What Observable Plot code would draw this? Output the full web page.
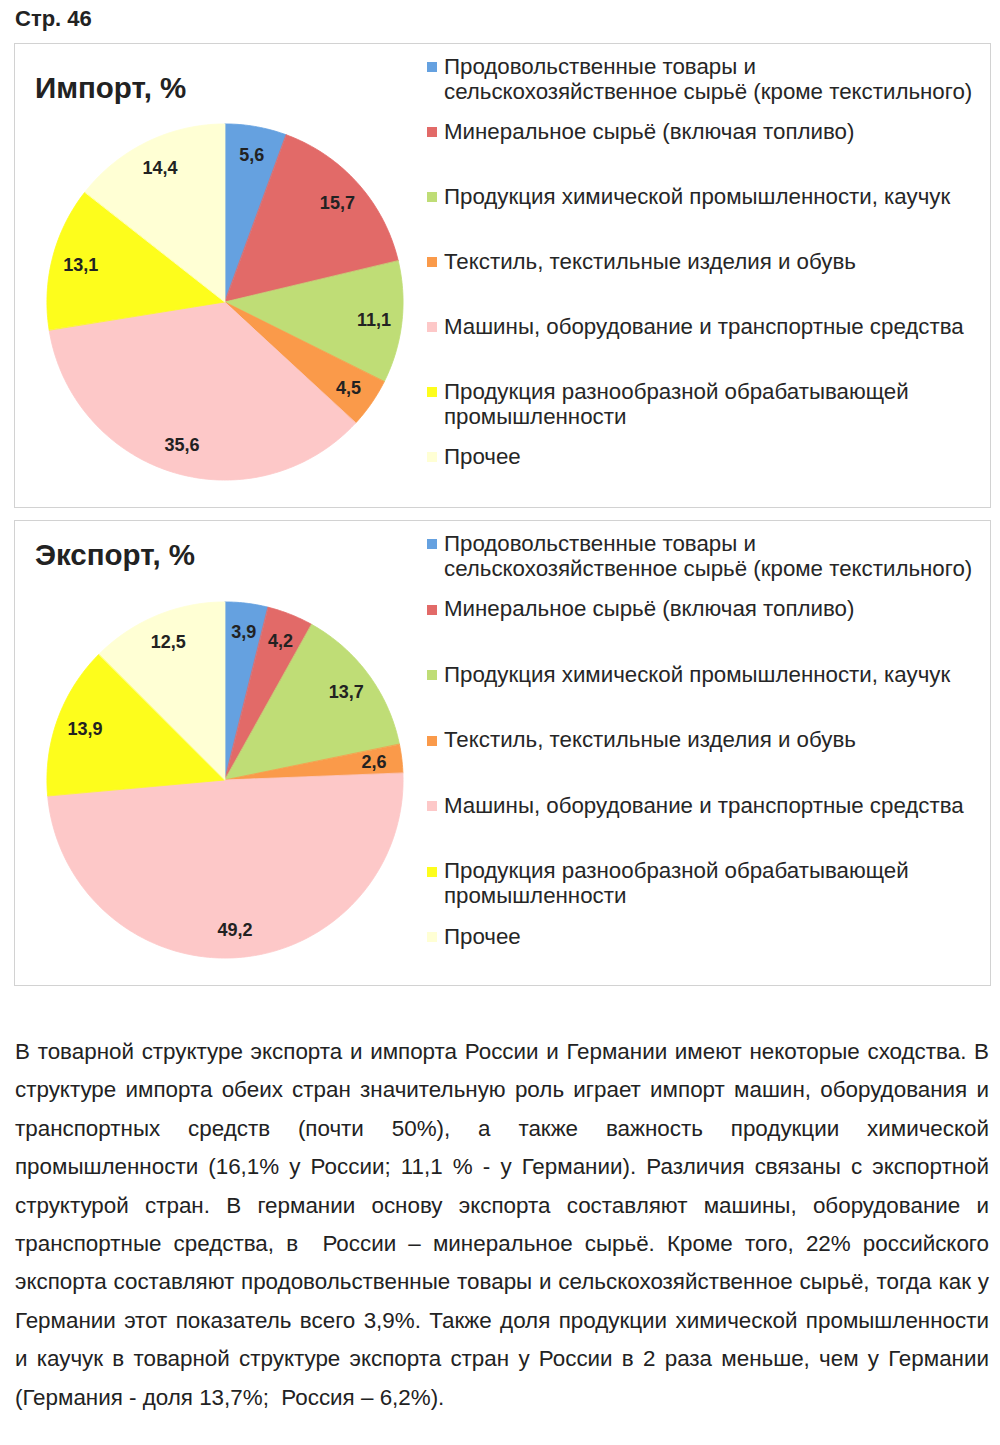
<!DOCTYPE html>
<html>
<head>
<meta charset="utf-8">
<script src="https://cdn.jsdelivr.net/npm/d3@7"></script>
<script src="https://cdn.jsdelivr.net/npm/@observablehq/plot@0.6"></script>
<style>
  html, body { margin: 0; padding: 0; background: #fff; }
  body { width: 1000px; height: 1445px; position: relative; font-family: Arial, "Liberation Sans", sans-serif; color: #222; overflow: hidden; }
  .abs { position: absolute; }
  .page { left: 15px; top: 5px; font-size: 22px; font-weight: bold; line-height: 28px; color: #222; }
  .box { border: 1px solid #d2d2d2; background: #fff; }
  .title { font-size: 29.5px; font-weight: bold; line-height: 34px; color: #222; white-space: nowrap; }
  .leg { left: 444px; font-size: 22.3px; line-height: 25px; color: #262626; white-space: nowrap; }
  .sw { left: 427px; width: 10px; height: 10px; }
  .para { left: 15px; width: 974px; line-height: 38.4px; color: #222; }
  .para div { text-align: justify; text-align-last: justify; white-space: nowrap; }
  .para div.last { text-align: left; text-align-last: left; }
</style>
</head>
<body>
<div id="root"></div>
<script>
// ---------- data ----------
const categories = [
  "Продовольственные товары и\nсельскохозяйственное сырьё (кроме текстильного)",
  "Минеральное сырьё (включая топливо)",
  "Продукция химической промышленности, каучук",
  "Текстиль, текстильные изделия и обувь",
  "Машины, оборудование и транспортные средства",
  "Продукция разнообразной обрабатывающей\nпромышленности",
  "Прочее"
];
const colors = ["#65a1e0", "#e26a68", "#bfdd76", "#fa9a4a", "#fdc8c8", "#fdfd1c", "#ffffd4"];
const importValues = [5.6, 15.7, 11.1, 4.5, 35.6, 13.1, 14.4];
const exportValues = [3.9, 4.2, 13.7, 2.6, 49.2, 13.9, 12.5];
const titles = ["Импорт, %", "Экспорт, %"];
const pageLabel = "Стр. 46";
const paragraphLines = [
  "В товарной структуре экспорта и импорта России и Германии имеют некоторые сходства. В",
  "структуре импорта обеих стран значительную роль играет импорт машин, оборудования и",
  "транспортных средств (почти 50%), а также важность продукции химической",
  "промышленности (16,1% у России; 11,1 % - у Германии). Различия связаны с экспортной",
  "структурой стран. В германии основу экспорта составляют машины, оборудование и",
  "транспортные средства, в\u00a0 России – минеральное сырьё. Кроме того, 22% российского",
  "экспорта составляют продовольственные товары и сельскохозяйственное сырьё, тогда как у",
  "Германии этот показатель всего 3,9%. Также доля продукции химической промышленности",
  "и каучук в товарной структуре экспорта стран у России в 2 раза меньше, чем у Германии",
  "(Германия - доля 13,7%;\u00a0 Россия – 6,2%)."
];

// ---------- layout helpers ----------
const root = document.getElementById("root");
function el(cls, css, html) {
  const d = document.createElement("div");
  d.className = "abs " + cls;
  Object.assign(d.style, css);
  if (html != null) d.innerHTML = html;
  root.appendChild(d);
  return d;
}

function piePlot(values) {
  const total = d3.sum(values);
  const slices = [];
  const pts = [];
  let acc = 0;
  values.forEach((v, i) => {
    const a0 = 2 * Math.PI * acc / total;
    acc += v;
    const a1 = 2 * Math.PI * acc / total;
    const n = Math.max(2, Math.ceil((a1 - a0) * 180 / Math.PI));
    for (let k = 0; k <= n; k++) {
      const a = a0 + (a1 - a0) * k / n;
      pts.push({cat: categories[i], x0: 0, y0: 0, x: Math.sin(a), y: Math.cos(a)});
    }
    const m = (a0 + a1) / 2;
    slices.push({cat: categories[i], value: v, lx: 0.84 * Math.sin(m), ly: 0.84 * Math.cos(m)});
  });
  return Plot.plot({
    width: 380, height: 380, margin: 0,
    style: {background: "transparent", overflow: "visible"},
    x: {domain: [-1.067, 1.067], axis: null},
    y: {domain: [-1.067, 1.067], axis: null},
    color: {domain: categories, range: colors},
    marks: [
      Plot.area(pts, {x1: "x0", y1: "y0", x2: "x", y2: "y", z: "cat", fill: "cat", stroke: "cat", strokeWidth: 0.8}),
      Plot.text(slices, {x: "lx", y: "ly", text: d => d3.format(".1f")(d.value).replace(".", ","),
        fontSize: 18, fontWeight: "bold", fill: "#222", fontFamily: "Arial, 'Liberation Sans', sans-serif"})
    ]
  });
}

// page label
el("page", {}, pageLabel);

// panels
const panels = [
  {values: importValues, boxTop: 43, boxH: 463, titleTop: 71, cy: 302, legTop: 66, legStep: 65},
  {values: exportValues, boxTop: 520, boxH: 464, titleTop: 538, cy: 780, legTop: 543, legStep: 65.5}
];
panels.forEach((p, pi) => {
  el("box", {left: "14px", top: p.boxTop + "px", width: "975px", height: p.boxH + "px"});
  el("title", {left: "35px", top: p.titleTop + "px"}, titles[pi]);
  const holder = el("", {left: (225 - 190) + "px", top: (p.cy - 190) + "px", width: "380px", height: "380px"});
  holder.appendChild(piePlot(p.values));
  categories.forEach((c, i) => {
    const cyText = p.legTop + p.legStep * i;
    el("sw", {top: (cyText - 4) + "px", background: colors[i]});
    el("leg", {top: (cyText - 12.5) + "px"}, c.replace("\n", "<br>"));
  });
});

// paragraph: size the font so the longest natural line just fits the column
const ctx = document.createElement("canvas").getContext("2d");
ctx.font = "20px Arial, 'Liberation Sans', sans-serif";
const maxW = d3.max(paragraphLines.slice(0, -1), t => ctx.measureText(t).width);
const fs = Math.min(22.4, 20 * 972 / maxW);
const para = el("para", {top: "1033px", fontSize: fs + "px"});
paragraphLines.forEach((t, i) => {
  const d = document.createElement("div");
  if (i === paragraphLines.length - 1) d.className = "last";
  d.textContent = t;
  para.appendChild(d);
});
</script>
</body>
</html>
